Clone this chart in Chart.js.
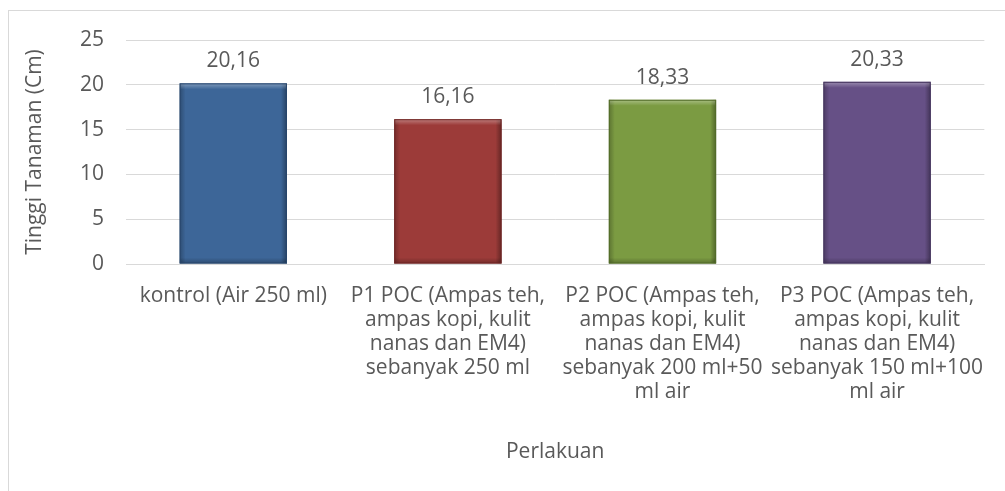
<!DOCTYPE html>
<html>
<head>
<meta charset="utf-8">
<script src="https://cdn.jsdelivr.net/npm/chart.js@4"></script>
<style>
    html, body { margin: 0; padding: 0; background: #fff; }
    #wrap { position: relative; width: 1005px; height: 491px; overflow: hidden; }
    #frame { position: absolute; left: 8px; top: 10px; right: -2px; bottom: -2px;
             border-top: 1px solid #d9d9d9; border-left: 1px solid #d9d9d9; }
    canvas { position: absolute; left: 0; top: 0; }
</style>
</head>
<body>
<div id="wrap">
    <div id="frame"></div>
    <canvas id="chart" width="1005" height="491"></canvas>
</div>
<script>
// data perlakuan
const categories = [
    ['kontrol (Air 250 ml)'],
    ['P1 POC (Ampas teh,', 'ampas kopi, kulit', 'nanas dan EM4)', 'sebanyak 250 ml'],
    ['P2 POC (Ampas teh,', 'ampas kopi, kulit', 'nanas dan EM4)', 'sebanyak 200 ml+50', 'ml air'],
    ['P3 POC (Ampas teh,', 'ampas kopi, kulit', 'nanas dan EM4)', 'sebanyak 150 ml+100', 'ml air'],
];
const tinggi     = [20.16, 16.16, 18.33, 20.33];
const labelTeks  = ['20,16', '16,16', '18,33', '20,33'];
const yTicks     = [0, 5, 10, 15, 20, 25];

const warna      = ['#3d6698', '#9c3b39', '#7b9b42', '#665086'];
const warnaGelap = ['#28466c', '#6e2524', '#536c29', '#45355e'];

const FONT = '"Open Sans", "Liberation Sans", sans-serif';
const TEXT = '#595959';
const UKURAN = 21;

// efek bevel ala excel
const bevelPlugin = {
    id: 'bevel',
    afterDatasetsDraw(chart) {
        const ctx = chart.ctx;
        chart.getDatasetMeta(0).data.forEach((bar, i) => {
            const { x, y, base, width } = bar.getProps(['x', 'y', 'base', 'width'], true);
            const l = x - width / 2, r = x + width / 2;
            const e = 6;
            ctx.save();
            // kiri
            let g = ctx.createLinearGradient(l, 0, l + e, 0);
            g.addColorStop(0, 'rgba(0,0,0,0.25)');
            g.addColorStop(1, 'rgba(0,0,0,0)');
            ctx.fillStyle = g;
            ctx.fillRect(l, y, e, base - y);
            // kanan
            g = ctx.createLinearGradient(r - e, 0, r, 0);
            g.addColorStop(0, 'rgba(0,0,0,0)');
            g.addColorStop(1, 'rgba(0,0,0,0.35)');
            ctx.fillStyle = g;
            ctx.fillRect(r - e, y, e, base - y);
            // atas
            g = ctx.createLinearGradient(0, y, 0, y + e);
            g.addColorStop(0, 'rgba(255,255,255,0.35)');
            g.addColorStop(1, 'rgba(255,255,255,0)');
            ctx.fillStyle = g;
            ctx.fillRect(l, y, width, e);
            // bawah
            g = ctx.createLinearGradient(0, base - e, 0, base);
            g.addColorStop(0, 'rgba(0,0,0,0)');
            g.addColorStop(1, 'rgba(0,0,0,0.25)');
            ctx.fillStyle = g;
            ctx.fillRect(l, base - e, width, e);
            ctx.strokeStyle = warnaGelap[i];
            ctx.lineWidth = 1;
            ctx.strokeRect(l + 0.5, y + 0.5, width - 1, base - y - 1);
            ctx.restore();
        });
    }
};

// label nilai di atas batang
const nilaiPlugin = {
    id: 'nilai',
    afterDatasetsDraw(chart) {
        const ctx = chart.ctx;
        ctx.save();
        ctx.font = UKURAN + 'px ' + FONT;
        ctx.fillStyle = TEXT;
        ctx.textAlign = 'center';
        ctx.textBaseline = 'middle';
        chart.getDatasetMeta(0).data.forEach((bar, i) => {
            ctx.fillText(labelTeks[i], bar.x, bar.y - 22);
        });
        ctx.restore();
    }
};

const fontAxis = { family: FONT, size: UKURAN, lineHeight: 1.143 };

new Chart(document.getElementById('chart'), {
    type: 'bar',
    data: {
        labels: categories,
        datasets: [{
            data: tinggi,
            backgroundColor: warna,
            borderWidth: 0,
            barPercentage: 0.5,
            categoryPercentage: 1,
        }]
    },
    options: {
        responsive: false,
        animation: false,
        layout: { padding: { left: 10, right: 15, top: 40, bottom: 0 } },
        plugins: { legend: { display: false }, tooltip: { enabled: false } },
        scales: {
            x: {
                grid: { display: false, drawTicks: false },
                border: { display: true, color: '#d9d9d9' },
                ticks: { color: TEXT, font: fontAxis, padding: 20, maxRotation: 0, autoSkip: false },
                title: { display: true, text: 'Perlakuan', color: TEXT, font: fontAxis, padding: { top: 4, bottom: 27 } },
                afterFit(scale) { scale.height = 227; }
            },
            y: {
                min: 0, max: 25,
                afterBuildTicks(scale) { scale.ticks = yTicks.map(v => ({ value: v })); },
                grid: { color: '#d9d9d9', drawTicks: false },
                border: { display: false },
                ticks: { color: TEXT, font: fontAxis, padding: 22 },
                title: { display: true, text: 'Tinggi Tanaman (Cm)', color: TEXT, font: fontAxis, padding: { top: 13, bottom: 0 } },
                afterFit(scale) { scale.width = 116; }
            }
        }
    },
    plugins: [bevelPlugin, nilaiPlugin]
});
</script>
</body>
</html>
